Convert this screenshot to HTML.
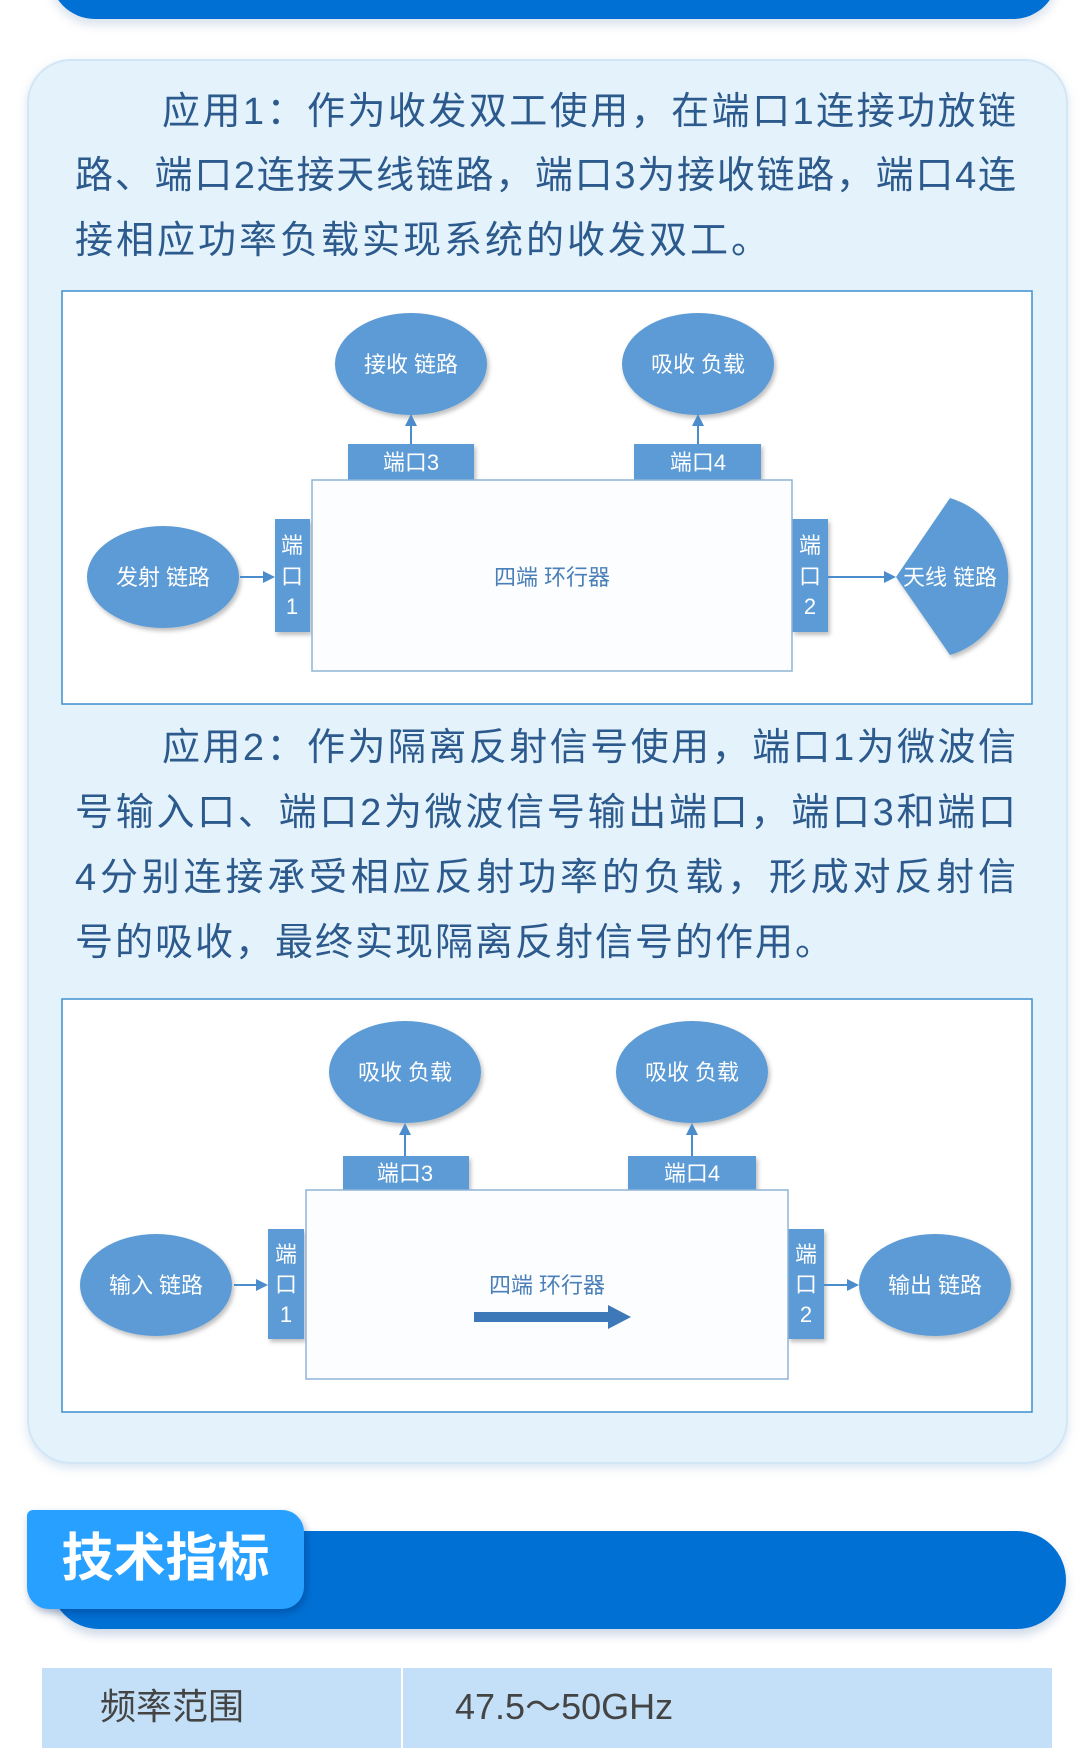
<!DOCTYPE html>
<html><head><meta charset="utf-8"><style>
html,body{margin:0;padding:0;}
body{width:1080px;height:1729px;position:relative;overflow:hidden;background:#fff;font-family:"Liberation Sans","Noto Sans CJK SC",sans-serif;}
.abs{position:absolute;}
.line{position:absolute;left:75px;width:941px;font-size:38px;color:#2c5a8c;text-align:justify;text-align-last:justify;white-space:nowrap;line-height:44px;}
svg text{font-family:"Liberation Sans","Noto Sans CJK SC",sans-serif;}
</style></head><body>
<div class="abs" style="left:50px;top:-60px;width:1008px;height:79px;background:#0070d4;border-radius:0 0 45px 45px;box-shadow:0 6px 10px rgba(0,60,130,0.15);"></div>
<div class="abs" style="left:27px;top:59px;width:1037px;height:1401px;background:#e4f2fc;border-radius:44px;border:2px solid #d2e6f6;box-shadow:0 4px 10px rgba(100,150,200,0.25);"></div>

<div class="line" style="top:90px;left:162px;width:854px;">应用1：作为收发双工使用，在端口1连接功放链</div>
<div class="line" style="top:154px;">路、端口2连接天线链路，端口3为接收链路，端口4连</div>
<div class="line" style="top:219px;text-align-last:left;letter-spacing:3px;">接相应功率负载实现系统的收发双工。</div>

<div class="line" style="top:726px;left:162px;width:854px;">应用2：作为隔离反射信号使用，端口1为微波信</div>
<div class="line" style="top:791px;">号输入口、端口2为微波信号输出端口，端口3和端口</div>
<div class="line" style="top:856px;">4分别连接承受相应反射功率的负载，形成对反射信</div>
<div class="line" style="top:921px;text-align-last:left;letter-spacing:2px;">号的吸收，最终实现隔离反射信号的作用。</div>

<svg class="abs" style="left:0;top:0" width="1080" height="1729">
<defs>
<marker id="ar" markerWidth="12" markerHeight="12" refX="10" refY="6" orient="auto" markerUnits="userSpaceOnUse"><path d="M0,0 L12,6 L0,12 z" fill="#4a8ccc"/></marker>
<filter id="sh"><feDropShadow dx="2" dy="3" stdDeviation="2" flood-color="#000" flood-opacity="0.25"/></filter>
</defs>
<rect x="62" y="291" width="970" height="413" fill="#fff" stroke="#3d8fce" stroke-width="1.5"/>
<g fill="#5b9bd5" filter="url(#sh)">
<ellipse cx="411" cy="364" rx="76" ry="51"/>
<ellipse cx="698" cy="364" rx="76" ry="51"/>
<ellipse cx="163" cy="577" rx="76" ry="51"/>
<rect x="348" y="444" width="126" height="36"/>
<rect x="634" y="444" width="127" height="36"/>
<rect x="275" y="519" width="35" height="113"/>
<rect x="792" y="519" width="36" height="113"/>
<path d="M896,577 L950,498 A82,82 0 0 1 950,655 Z"/>
</g>
<rect x="312" y="480" width="480" height="191" fill="#fbfdff" stroke="#8fb3d6" stroke-width="1.5"/>
<g stroke="#4a8ccc" stroke-width="2" fill="none">
<line x1="411" y1="444" x2="411" y2="416" marker-end="url(#ar)"/>
<line x1="698" y1="444" x2="698" y2="416" marker-end="url(#ar)"/>
<line x1="240" y1="577" x2="273" y2="577" marker-end="url(#ar)"/>
<line x1="828" y1="577" x2="894" y2="577" marker-end="url(#ar)"/>
</g>
<g fill="#fff" font-size="22" text-anchor="middle">
<text x="411" y="372">接收 链路</text>
<text x="698" y="372">吸收 负载</text>
<text x="163" y="585">发射 链路</text>
<text x="411" y="470">端口3</text>
<text x="698" y="470">端口4</text>
<text x="292" y="553">端</text><text x="292" y="584">口</text><text x="292" y="614">1</text>
<text x="810" y="553">端</text><text x="810" y="584">口</text><text x="810" y="614">2</text>
<text x="950" y="585">天线 链路</text>
</g>
<text x="552" y="585" fill="#4a7fb8" font-size="22" text-anchor="middle">四端 环行器</text>

<rect x="62" y="999" width="970" height="413" fill="#fff" stroke="#3d8fce" stroke-width="1.5"/>
<g fill="#5b9bd5" filter="url(#sh)">
<ellipse cx="405" cy="1072" rx="76" ry="51"/>
<ellipse cx="692" cy="1072" rx="76" ry="51"/>
<ellipse cx="156" cy="1285" rx="76" ry="51"/>
<ellipse cx="935" cy="1285" rx="76" ry="51"/>
<rect x="343" y="1156" width="126" height="34"/>
<rect x="628" y="1156" width="128" height="34"/>
<rect x="268" y="1229" width="36" height="110"/>
<rect x="788" y="1229" width="36" height="110"/>
</g>
<rect x="306" y="1190" width="482" height="189" fill="#fbfdff" stroke="#8fb3d6" stroke-width="1.5"/>
<g stroke="#4a8ccc" stroke-width="2" fill="none">
<line x1="405" y1="1156" x2="405" y2="1125" marker-end="url(#ar)"/>
<line x1="692" y1="1156" x2="692" y2="1125" marker-end="url(#ar)"/>
<line x1="234" y1="1285" x2="266" y2="1285" marker-end="url(#ar)"/>
<line x1="824" y1="1285" x2="857" y2="1285" marker-end="url(#ar)"/>
</g>
<path d="M474,1312 L608,1312 L608,1305 L631,1317 L608,1329 L608,1322 L474,1322 Z" fill="#3d78b8"/>
<g fill="#fff" font-size="22" text-anchor="middle">
<text x="405" y="1080">吸收 负载</text>
<text x="692" y="1080">吸收 负载</text>
<text x="156" y="1293">输入 链路</text>
<text x="935" y="1293">输出 链路</text>
<text x="405" y="1181">端口3</text>
<text x="692" y="1181">端口4</text>
<text x="286" y="1262">端</text><text x="286" y="1292">口</text><text x="286" y="1322">1</text>
<text x="806" y="1262">端</text><text x="806" y="1292">口</text><text x="806" y="1322">2</text>
</g>
<text x="547" y="1293" fill="#4a7fb8" font-size="22" text-anchor="middle">四端 环行器</text>
</svg>

<div class="abs" style="left:50px;top:1531px;width:1016px;height:98px;background:#0070d4;border-radius:49px;box-shadow:0 6px 10px rgba(0,60,130,0.2);"></div>
<div class="abs" style="left:27px;top:1510px;width:277px;height:99px;background:#27a0ff;border-radius:6px 22px 22px 22px;box-shadow:2px 4px 8px rgba(0,40,100,0.35);"></div>
<div class="abs" style="left:27px;top:1510px;width:277px;height:99px;line-height:99px;text-align:center;color:#fff;font-size:52px;font-weight:bold;">技术指标</div>

<div class="abs" style="left:42px;top:1668px;width:1010px;height:80px;background:#c3e0f8;"></div>
<div class="abs" style="left:401px;top:1668px;width:2px;height:80px;background:#fff;"></div>
<div class="abs" style="left:100px;top:1686px;font-size:36px;color:#444;line-height:42px;">频率范围</div>
<div class="abs" style="left:455px;top:1686px;font-size:36px;color:#444;line-height:42px;">47.5～50GHz</div>
</body></html>
